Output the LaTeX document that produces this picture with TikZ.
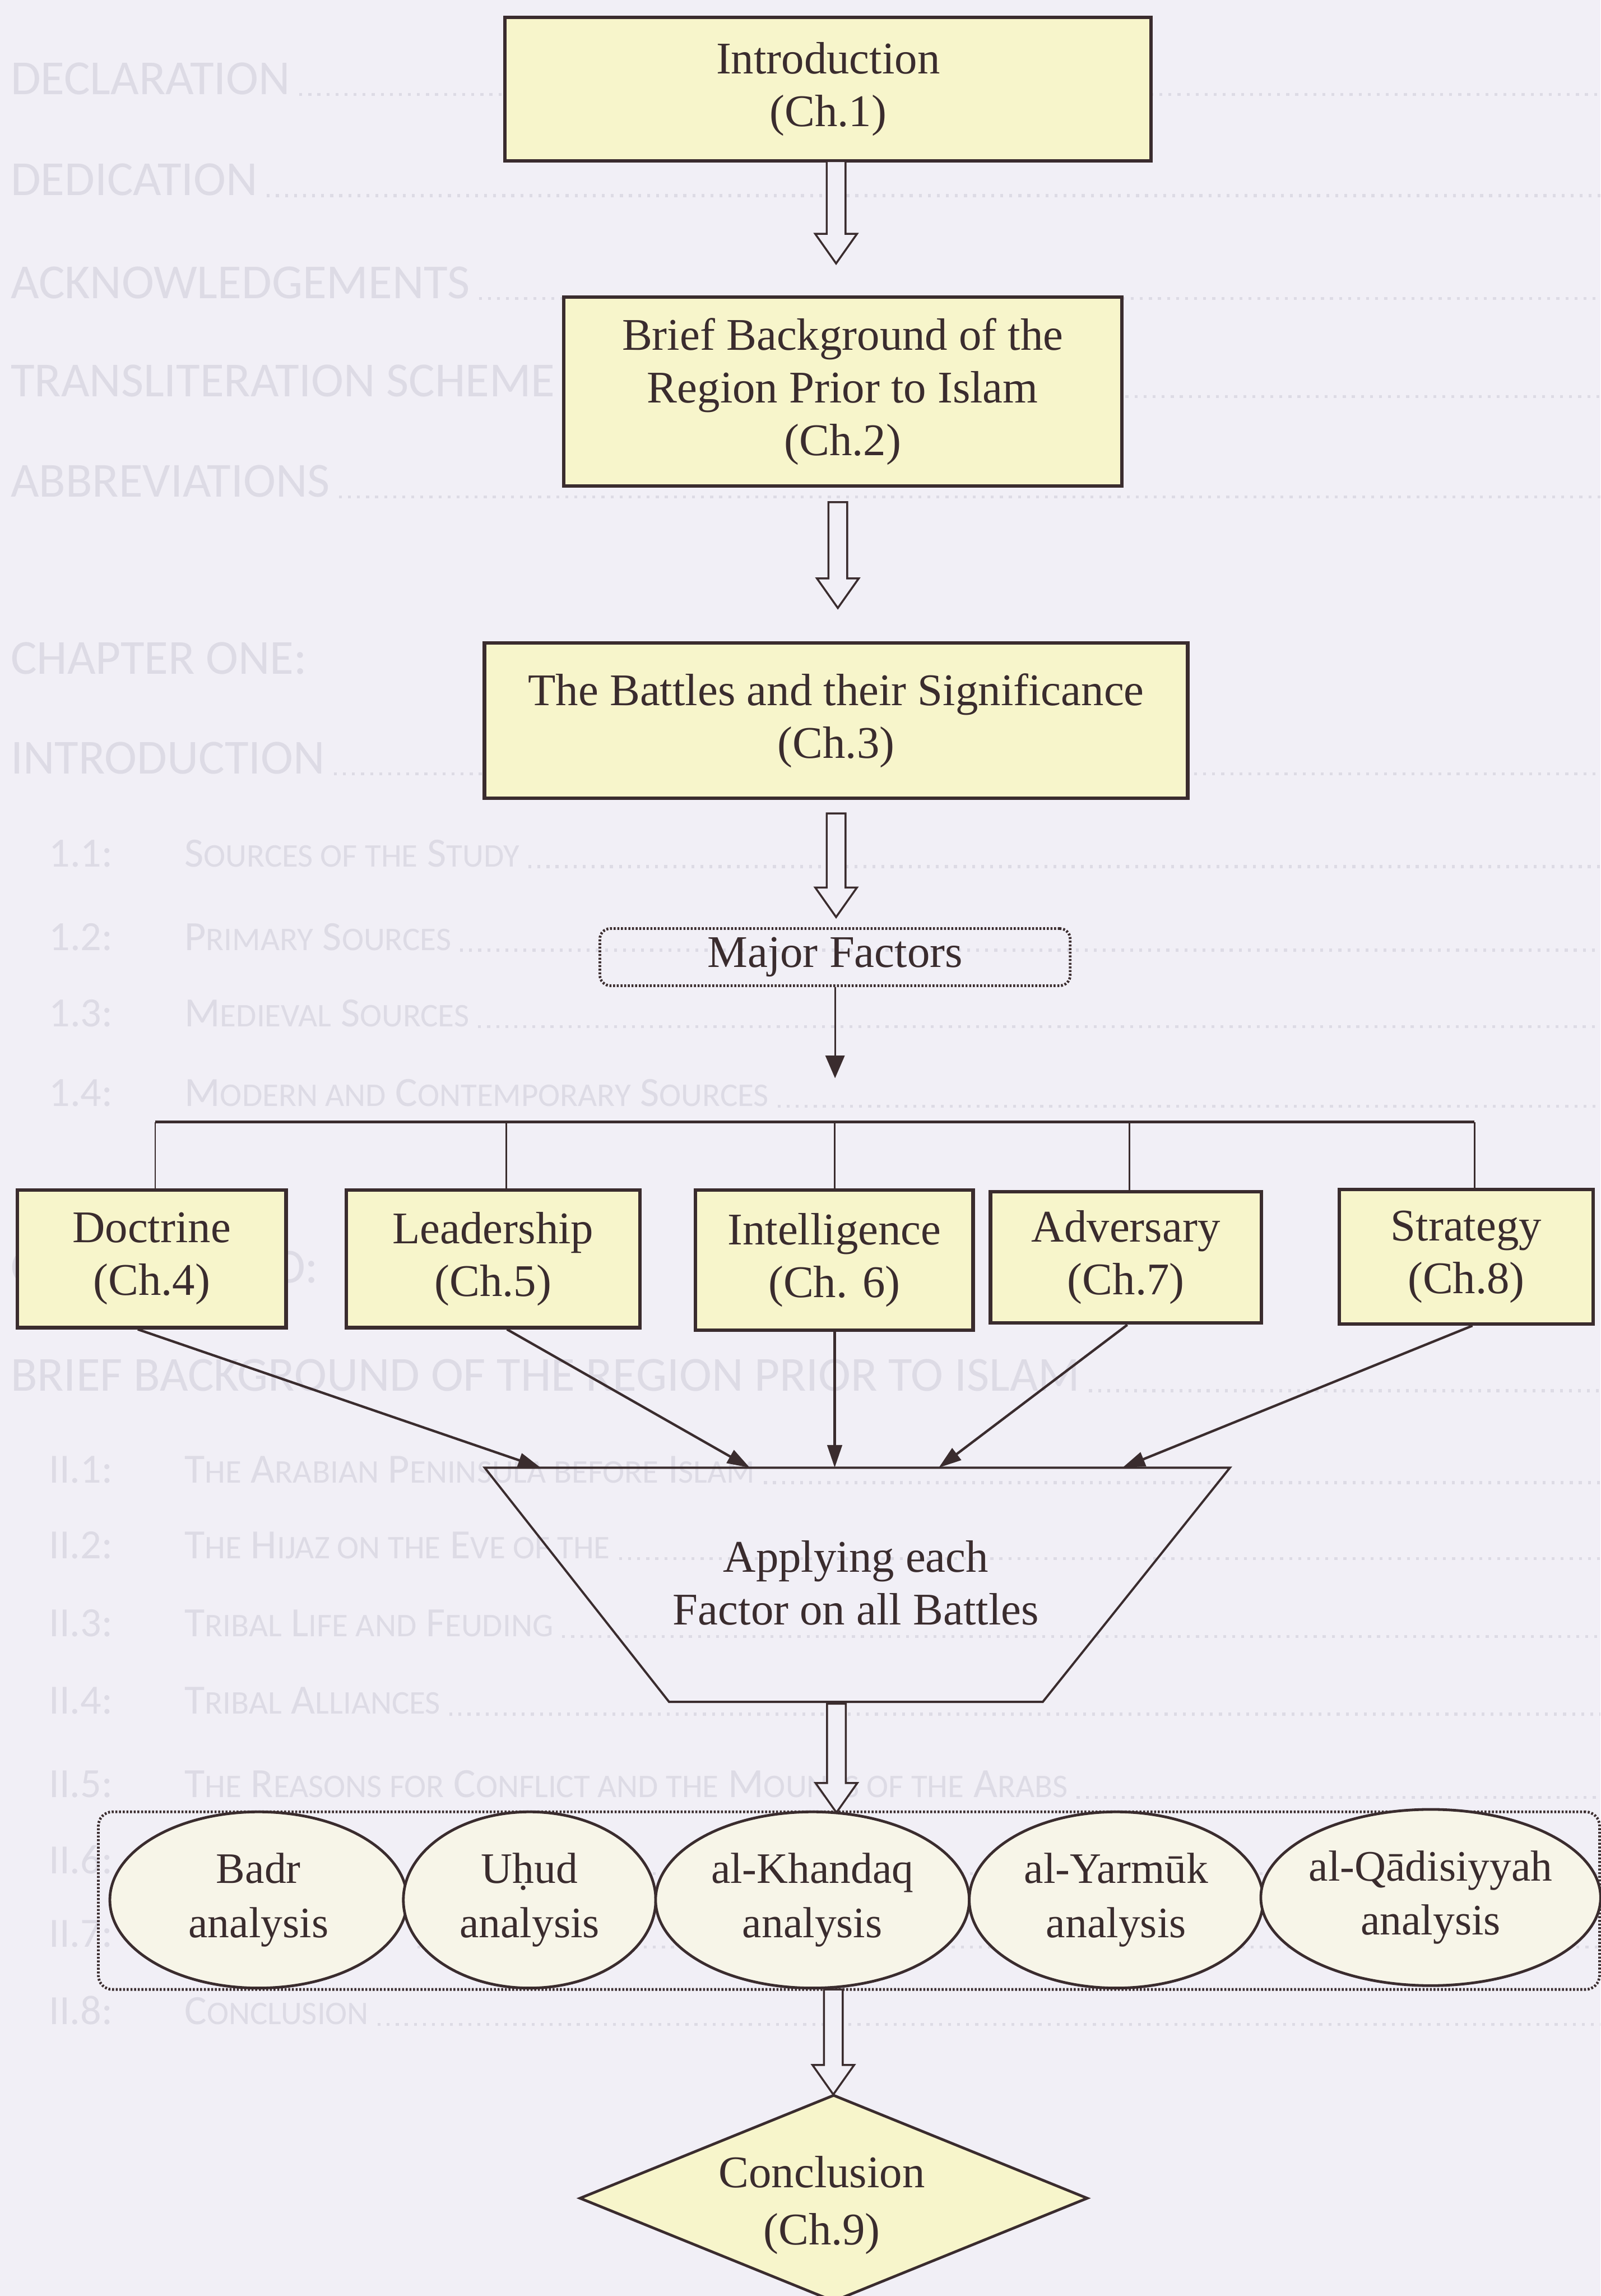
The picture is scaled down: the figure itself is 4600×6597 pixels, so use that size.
\documentclass[tikz,border=0pt]{standalone}
\usepackage{fontspec}
\setmainfont{Liberation Serif}
\newfontfamily\ghostfont{Carlito}
\usetikzlibrary{arrows.meta,shapes.geometric,calc}
\definecolor{bgc}{RGB}{241,239,246}
\definecolor{ink}{RGB}{58,44,46}
\definecolor{boxfill}{RGB}{247,245,203}
\definecolor{ellfill}{RGB}{247,245,232}
\definecolor{ghost}{RGB}{221,219,229}
\newcommand\gsm[1]{{\fontsize{27}{30}\selectfont #1}}
\newcommand\ghosthead[4]{%
  \node[ghosth, anchor=base west] (#3) at (#1,#2) {#4};
  \draw[ghostdots] (#3.base east) ++(25,0) -- (4600,#2);}
\newcommand\ghostsub[4]{%
  \node[ghosts, anchor=base west] (#2n) at (140,#1) {#3};
  \node[ghosts, anchor=base west] (#2) at (530,#1) {#4};
  \draw[ghostdots] (#2.base east) ++(25,0) -- (4600,#1);}
\newcommand\ghostnum[3]{%
  \node[ghosts, anchor=base west] (#2n) at (140,#1) {#3};
  \coordinate (#2) at (1200,#1);
  \draw[ghostdots] (#2) -- (4600,#1);}
\newcommand\hollowarrow[2]{%
  \draw[harrow] ($(#1)+(-27,0)$) -- ($(#2)+(-27,-85)$) -- ($(#2)+(-60,-85)$) -- (#2)
    -- ($(#2)+(60,-85)$) -- ($(#2)+(27,-85)$) -- ($(#1)+(27,0)$) -- cycle;}
\tikzset{
  every node/.style={font=\fontsize{37}{43}\selectfont, text=ink},
  ybox/.style={draw=ink, line width=2.8pt, fill=boxfill, align=center, inner sep=0pt},
  dotbox/.style={draw=ink, line width=2.2pt, dash pattern=on 1.6pt off 1.4pt, rounded corners=0.3cm, align=center, inner sep=0pt},
  ell/.style={ellipse, draw=ink, line width=2.2pt, fill=ellfill, align=center, inner sep=0pt, inner xsep=-0.1cm, font=\fontsize{35.5}{44}\selectfont},
  conclshape/.style={diamond, draw=ink, line width=2.2pt, fill=boxfill, inner sep=0pt},
  barline/.style={draw=ink, line width=2.3pt},
  dropline/.style={draw=ink, line width=1.2pt},
  feed/.style={draw=ink, line width=2pt, -{Triangle[length=0.65cm, width=0.42cm]}},
  mfarrow/.style={draw=ink, line width=1.3pt, -{Triangle[length=0.65cm, width=0.55cm]}},
  harrow/.style={draw=ink, line width=1.6pt, fill=bgc, line join=miter},
  trap/.style={draw=ink, line width=1.8pt, line join=miter},
  ghosth/.style={font=\ghostfont\fontsize{40}{44}\selectfont, text=ghost, inner sep=0pt},
  ghosts/.style={font=\ghostfont\fontsize{34}{38}\selectfont, text=ghost, inner sep=0pt},
  ghostdots/.style={draw=ghost, line width=2.4pt, dash pattern=on 2.4pt off 5pt},
}
\begin{document}
\begin{tikzpicture}[x=0.01cm, y=-0.01cm]
\fill[bgc] (0,0) rectangle (4600,6597);
\useasboundingbox (0,0) rectangle (4600,6597);

% faint show-through text of the facing page
\ghosthead{30}{272}{g1}{DECLARATION}
\ghosthead{30}{562}{g2}{DEDICATION}
\ghosthead{30}{858}{g3}{ACKNOWLEDGEMENTS}
\ghosthead{30}{1140}{g4}{TRANSLITERATION SCHEME}
\ghosthead{30}{1428}{g5}{ABBREVIATIONS}
\node[ghosth, anchor=base west] (g6) at (30,1936) {CHAPTER ONE:};
\ghosthead{30}{2223}{g7}{INTRODUCTION}
\ghostsub{2490}{g8}{1.1:}{S\gsm{OURCES OF THE} S\gsm{TUDY}}
\ghostsub{2730}{g9}{1.2:}{P\gsm{RIMARY} S\gsm{OURCES}}
\ghostsub{2950}{g10}{1.3:}{M\gsm{EDIEVAL} S\gsm{OURCES}}
\ghostsub{3178}{g11}{1.4:}{M\gsm{ODERN AND} C\gsm{ONTEMPORARY} S\gsm{OURCES}}
\node[ghosth, anchor=base west] (g12) at (30,3685) {CHAPTER TWO:};
\ghosthead{30}{3996}{g13}{BRIEF BACKGROUND OF THE REGION PRIOR TO ISLAM}
\ghostsub{4260}{g14}{II.1:}{T\gsm{HE} A\gsm{RABIAN} P\gsm{ENINSULA BEFORE} I\gsm{SLAM}}
\ghostsub{4478}{g15}{II.2:}{T\gsm{HE} H\gsm{IJAZ ON THE} E\gsm{VE OF THE}}
\ghostsub{4702}{g16}{II.3:}{T\gsm{RIBAL} L\gsm{IFE AND} F\gsm{EUDING}}
\ghostsub{4925}{g17}{II.4:}{T\gsm{RIBAL} A\gsm{LLIANCES}}
\ghostsub{5164}{g18}{II.5:}{T\gsm{HE} R\gsm{EASONS FOR} C\gsm{ONFLICT AND THE} M\gsm{OUNTS OF THE} A\gsm{RABS}}
\ghostnum{5383}{g19}{II.6:}
\ghostnum{5594}{g20}{II.7:}
\ghostsub{5817}{g21}{II.8:}{C\gsm{ONCLUSION}}

% main chain
\node[ybox, minimum width=18.56cm, minimum height=4.13cm] (intro) at (2380,256) {Introduction\\(Ch.1)};
\node[ybox, minimum width=16.04cm, minimum height=5.43cm] (brief) at (2422,1125) {Brief Background of the\\Region Prior to Islam\\(Ch.2)};
\node[ybox, minimum width=20.2cm, minimum height=4.46cm] (battles) at (2403,2071) {The Battles and their Significance\\(Ch.3)};
\node[dotbox, minimum width=13.51cm, minimum height=1.64cm] (major) at (2400,2750) {Major Factors};

\coordinate (a1s) at (2403,463);  \coordinate (a1e) at (2403,757);
\coordinate (a2s) at (2408,1443); \coordinate (a2e) at (2408,1747);
\coordinate (a3s) at (2403,2337); \coordinate (a3e) at (2403,2635);
\hollowarrow{a1s}{a1e}
\hollowarrow{a2s}{a2e}
\hollowarrow{a3s}{a3e}

% factors
\node[ybox, minimum width=7.72cm, minimum height=3.95cm] (doct) at (436,3617) {Doctrine\\(Ch.4)};
\node[ybox, minimum width=8.44cm, minimum height=3.95cm] (lead) at (1417,3617) {Leadership\\(Ch.5)};
\node[ybox, minimum width=7.97cm, minimum height=4.02cm] (intel) at (2398,3621) {Intelligence\\(Ch. 6)};
\node[ybox, minimum width=7.78cm, minimum height=3.77cm] (advers) at (3236,3613) {Adversary\\(Ch.7)};
\node[ybox, minimum width=7.28cm, minimum height=3.86cm] (strat) at (4214,3611) {Strategy\\(Ch.8)};

\coordinate (mfend) at (2400,3098);
\draw[mfarrow] (major.south) -- (mfend);

\coordinate (d1) at (446,3224);
\coordinate (d2) at (1455,3224);
\coordinate (d3) at (2399,3224);
\coordinate (d4) at (3246,3224);
\coordinate (d5) at (4238,3224);
\draw[barline] (d1) -- (d5);
\draw[dropline] (d1) -- (d1 |- doct.north);
\draw[dropline] (d2) -- (d2 |- lead.north);
\draw[dropline] (d3) -- (d3 |- intel.north);
\draw[dropline] (d4) -- (d4 |- advers.north);
\draw[dropline] (d5) -- (d5 |- strat.north);

% funnel
\coordinate (tpa) at (1393,4217);
\coordinate (tpb) at (3535,4217);
\coordinate (tpc) at (2997,4890);
\coordinate (tpd) at (1923,4890);
\draw[trap] (tpa) -- (tpb) -- (tpc) -- (tpd) -- cycle;
\node[align=center] (apply) at (2460,4548) {Applying each\\Factor on all Battles};

\coordinate (s1) at (396,0);
\coordinate (s2) at (1457,0);
\coordinate (s3) at (2399,0);
\coordinate (s4) at (3240,0);
\coordinate (s5) at (4232,0);
\coordinate (t1) at (1554,4217);
\coordinate (t2) at (2155,4217);
\coordinate (t3) at (2399,4217);
\coordinate (t4) at (2698,4217);
\coordinate (t5) at (3226,4217);
\draw[feed] (s1 |- doct.south) -- (t1);
\draw[feed] (s2 |- lead.south) -- (t2);
\draw[feed] (s3 |- intel.south) -- (t3);
\draw[feed] (s4 |- advers.south) -- (t4);
\draw[feed] (s5 |- strat.south) -- (t5);

\coordinate (a4s) at (2404,4895); \coordinate (a4e) at (2404,5208);
\hollowarrow{a4s}{a4e}

% battles row
\node[dotbox, rounded corners=0.4cm, minimum width=43.12cm, minimum height=5.1cm] (row) at (2440,5461) {};
\node[ell, minimum width=8.54cm, minimum height=5.06cm] (badr) at (743,5459) {Badr\\analysis};
\node[ell, minimum width=7.25cm, minimum height=5.06cm] (uhud) at (1522,5459) {Uḥud\\analysis};
\node[ell, minimum width=9.01cm, minimum height=5.06cm] (khandaq) at (2335,5459) {al-Khandaq\\analysis};
\node[ell, minimum width=8.44cm, minimum height=5.06cm] (yarmuk) at (3208,5459) {al-Yarmūk\\analysis};
\node[ell, minimum width=9.76cm, minimum height=5.06cm] (qad) at (4112,5452) {al-Qādisiyyah\\analysis};

\coordinate (a5s) at (2395,5716); \coordinate (a5e) at (2395,6018);
\hollowarrow{a5s}{a5e}

% conclusion
\node[conclshape, minimum width=14.6cm, minimum height=5.94cm] (concl) at (2396,6316) {};
\node[align=center] (concltext) at (2362,6336) {Conclusion\\[4pt](Ch.9)};
\end{tikzpicture}
\end{document}
